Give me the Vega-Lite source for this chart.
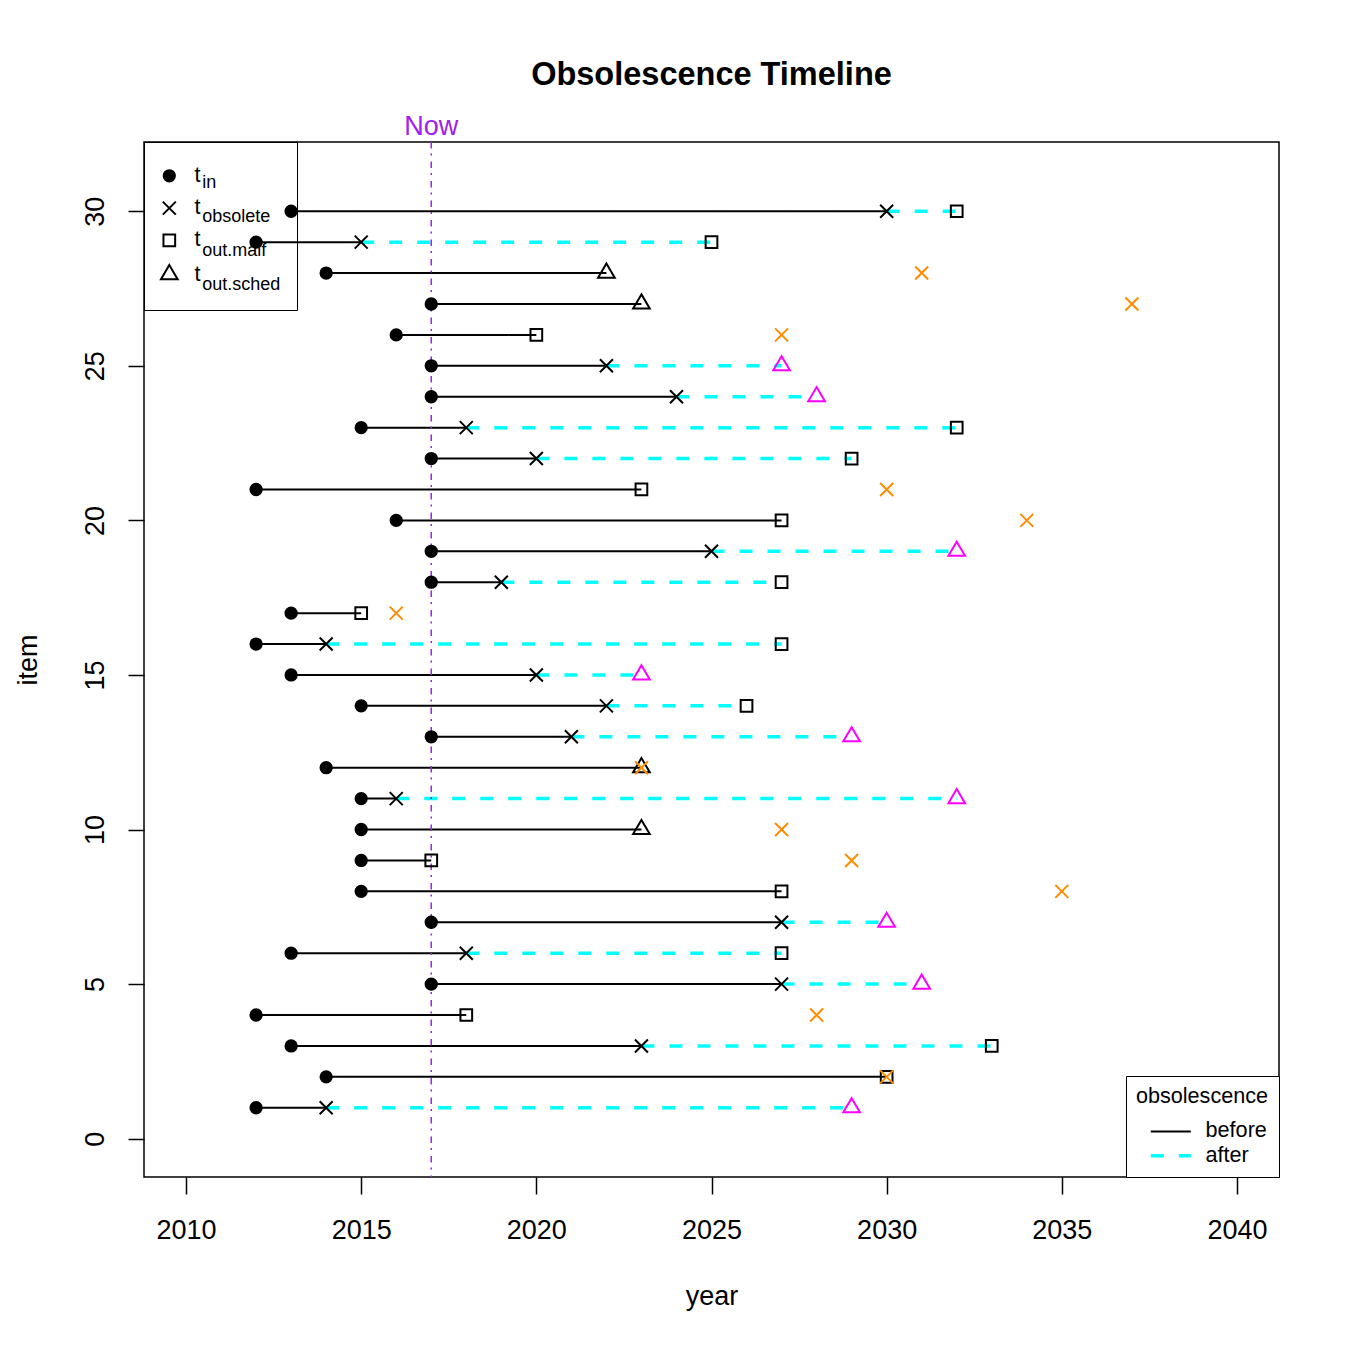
{
  "$schema": "https://vega.github.io/schema/vega-lite/v6.json",
  "width": 1135,
  "height": 1035,
  "autosize": {"type": "none"},
  "padding": {"left": 144, "top": 142, "right": 73, "bottom": 169},
  "background": "white",
  "title": {"text": "Obsolescence Timeline", "fontSize": 32.5, "fontWeight": "bold", "font": "Liberation Sans", "color": "black", "anchor": "middle", "baseline": "alphabetic", "offset": -5},
  "config": {
    "font": "Liberation Sans",
    "view": {"stroke": "black", "strokeWidth": 1.5},
    "axis": {"domain": false, "grid": false, "tickColor": "black", "tickWidth": 1.5, "labelColor": "black", "labelFontSize": 27, "labelFont": "Liberation Sans", "titleFont": "Liberation Sans", "titleFontSize": 27, "titleFontWeight": "normal", "titleColor": "black"},
    "legend": {"labelFont": "Liberation Sans", "titleFont": "Liberation Sans", "labelColor": "black", "titleColor": "black"}
  },
  "datasets": {
    "points": [
      {"item": 30, "year": 2013, "event": "t_in", "sub": "in", "status": "normal"},
      {"item": 30, "year": 2030, "event": "t_obsolete", "sub": "obsolete", "status": "normal"},
      {"item": 30, "year": 2032, "event": "t_out.malf", "sub": "out.malf", "status": "normal"},
      {"item": 29, "year": 2012, "event": "t_in", "sub": "in", "status": "normal"},
      {"item": 29, "year": 2015, "event": "t_obsolete", "sub": "obsolete", "status": "normal"},
      {"item": 29, "year": 2025, "event": "t_out.malf", "sub": "out.malf", "status": "normal"},
      {"item": 28, "year": 2014, "event": "t_in", "sub": "in", "status": "normal"},
      {"item": 28, "year": 2022, "event": "t_out.sched", "sub": "out.sched", "status": "normal"},
      {"item": 28, "year": 2031, "event": "t_obsolete", "sub": "obsolete", "status": "obsolete after out"},
      {"item": 27, "year": 2017, "event": "t_in", "sub": "in", "status": "normal"},
      {"item": 27, "year": 2023, "event": "t_out.sched", "sub": "out.sched", "status": "normal"},
      {"item": 27, "year": 2037, "event": "t_obsolete", "sub": "obsolete", "status": "obsolete after out"},
      {"item": 26, "year": 2016, "event": "t_in", "sub": "in", "status": "normal"},
      {"item": 26, "year": 2020, "event": "t_out.malf", "sub": "out.malf", "status": "normal"},
      {"item": 26, "year": 2027, "event": "t_obsolete", "sub": "obsolete", "status": "obsolete after out"},
      {"item": 25, "year": 2017, "event": "t_in", "sub": "in", "status": "normal"},
      {"item": 25, "year": 2022, "event": "t_obsolete", "sub": "obsolete", "status": "normal"},
      {"item": 25, "year": 2027, "event": "t_out.sched", "sub": "out.sched", "status": "scheduled after obsolete"},
      {"item": 24, "year": 2017, "event": "t_in", "sub": "in", "status": "normal"},
      {"item": 24, "year": 2024, "event": "t_obsolete", "sub": "obsolete", "status": "normal"},
      {"item": 24, "year": 2028, "event": "t_out.sched", "sub": "out.sched", "status": "scheduled after obsolete"},
      {"item": 23, "year": 2015, "event": "t_in", "sub": "in", "status": "normal"},
      {"item": 23, "year": 2018, "event": "t_obsolete", "sub": "obsolete", "status": "normal"},
      {"item": 23, "year": 2032, "event": "t_out.malf", "sub": "out.malf", "status": "normal"},
      {"item": 22, "year": 2017, "event": "t_in", "sub": "in", "status": "normal"},
      {"item": 22, "year": 2020, "event": "t_obsolete", "sub": "obsolete", "status": "normal"},
      {"item": 22, "year": 2029, "event": "t_out.malf", "sub": "out.malf", "status": "normal"},
      {"item": 21, "year": 2012, "event": "t_in", "sub": "in", "status": "normal"},
      {"item": 21, "year": 2023, "event": "t_out.malf", "sub": "out.malf", "status": "normal"},
      {"item": 21, "year": 2030, "event": "t_obsolete", "sub": "obsolete", "status": "obsolete after out"},
      {"item": 20, "year": 2016, "event": "t_in", "sub": "in", "status": "normal"},
      {"item": 20, "year": 2027, "event": "t_out.malf", "sub": "out.malf", "status": "normal"},
      {"item": 20, "year": 2034, "event": "t_obsolete", "sub": "obsolete", "status": "obsolete after out"},
      {"item": 19, "year": 2017, "event": "t_in", "sub": "in", "status": "normal"},
      {"item": 19, "year": 2025, "event": "t_obsolete", "sub": "obsolete", "status": "normal"},
      {"item": 19, "year": 2032, "event": "t_out.sched", "sub": "out.sched", "status": "scheduled after obsolete"},
      {"item": 18, "year": 2017, "event": "t_in", "sub": "in", "status": "normal"},
      {"item": 18, "year": 2019, "event": "t_obsolete", "sub": "obsolete", "status": "normal"},
      {"item": 18, "year": 2027, "event": "t_out.malf", "sub": "out.malf", "status": "normal"},
      {"item": 17, "year": 2013, "event": "t_in", "sub": "in", "status": "normal"},
      {"item": 17, "year": 2015, "event": "t_out.malf", "sub": "out.malf", "status": "normal"},
      {"item": 17, "year": 2016, "event": "t_obsolete", "sub": "obsolete", "status": "obsolete after out"},
      {"item": 16, "year": 2012, "event": "t_in", "sub": "in", "status": "normal"},
      {"item": 16, "year": 2014, "event": "t_obsolete", "sub": "obsolete", "status": "normal"},
      {"item": 16, "year": 2027, "event": "t_out.malf", "sub": "out.malf", "status": "normal"},
      {"item": 15, "year": 2013, "event": "t_in", "sub": "in", "status": "normal"},
      {"item": 15, "year": 2020, "event": "t_obsolete", "sub": "obsolete", "status": "normal"},
      {"item": 15, "year": 2023, "event": "t_out.sched", "sub": "out.sched", "status": "scheduled after obsolete"},
      {"item": 14, "year": 2015, "event": "t_in", "sub": "in", "status": "normal"},
      {"item": 14, "year": 2022, "event": "t_obsolete", "sub": "obsolete", "status": "normal"},
      {"item": 14, "year": 2026, "event": "t_out.malf", "sub": "out.malf", "status": "normal"},
      {"item": 13, "year": 2017, "event": "t_in", "sub": "in", "status": "normal"},
      {"item": 13, "year": 2021, "event": "t_obsolete", "sub": "obsolete", "status": "normal"},
      {"item": 13, "year": 2029, "event": "t_out.sched", "sub": "out.sched", "status": "scheduled after obsolete"},
      {"item": 12, "year": 2014, "event": "t_in", "sub": "in", "status": "normal"},
      {"item": 12, "year": 2023, "event": "t_out.sched", "sub": "out.sched", "status": "normal"},
      {"item": 12, "year": 2023, "event": "t_obsolete", "sub": "obsolete", "status": "obsolete after out"},
      {"item": 11, "year": 2015, "event": "t_in", "sub": "in", "status": "normal"},
      {"item": 11, "year": 2016, "event": "t_obsolete", "sub": "obsolete", "status": "normal"},
      {"item": 11, "year": 2032, "event": "t_out.sched", "sub": "out.sched", "status": "scheduled after obsolete"},
      {"item": 10, "year": 2015, "event": "t_in", "sub": "in", "status": "normal"},
      {"item": 10, "year": 2023, "event": "t_out.sched", "sub": "out.sched", "status": "normal"},
      {"item": 10, "year": 2027, "event": "t_obsolete", "sub": "obsolete", "status": "obsolete after out"},
      {"item": 9, "year": 2015, "event": "t_in", "sub": "in", "status": "normal"},
      {"item": 9, "year": 2017, "event": "t_out.malf", "sub": "out.malf", "status": "normal"},
      {"item": 9, "year": 2029, "event": "t_obsolete", "sub": "obsolete", "status": "obsolete after out"},
      {"item": 8, "year": 2015, "event": "t_in", "sub": "in", "status": "normal"},
      {"item": 8, "year": 2027, "event": "t_out.malf", "sub": "out.malf", "status": "normal"},
      {"item": 8, "year": 2035, "event": "t_obsolete", "sub": "obsolete", "status": "obsolete after out"},
      {"item": 7, "year": 2017, "event": "t_in", "sub": "in", "status": "normal"},
      {"item": 7, "year": 2027, "event": "t_obsolete", "sub": "obsolete", "status": "normal"},
      {"item": 7, "year": 2030, "event": "t_out.sched", "sub": "out.sched", "status": "scheduled after obsolete"},
      {"item": 6, "year": 2013, "event": "t_in", "sub": "in", "status": "normal"},
      {"item": 6, "year": 2018, "event": "t_obsolete", "sub": "obsolete", "status": "normal"},
      {"item": 6, "year": 2027, "event": "t_out.malf", "sub": "out.malf", "status": "normal"},
      {"item": 5, "year": 2017, "event": "t_in", "sub": "in", "status": "normal"},
      {"item": 5, "year": 2027, "event": "t_obsolete", "sub": "obsolete", "status": "normal"},
      {"item": 5, "year": 2031, "event": "t_out.sched", "sub": "out.sched", "status": "scheduled after obsolete"},
      {"item": 4, "year": 2012, "event": "t_in", "sub": "in", "status": "normal"},
      {"item": 4, "year": 2018, "event": "t_out.malf", "sub": "out.malf", "status": "normal"},
      {"item": 4, "year": 2028, "event": "t_obsolete", "sub": "obsolete", "status": "obsolete after out"},
      {"item": 3, "year": 2013, "event": "t_in", "sub": "in", "status": "normal"},
      {"item": 3, "year": 2023, "event": "t_obsolete", "sub": "obsolete", "status": "normal"},
      {"item": 3, "year": 2033, "event": "t_out.malf", "sub": "out.malf", "status": "normal"},
      {"item": 2, "year": 2014, "event": "t_in", "sub": "in", "status": "normal"},
      {"item": 2, "year": 2030, "event": "t_out.malf", "sub": "out.malf", "status": "normal"},
      {"item": 2, "year": 2030, "event": "t_obsolete", "sub": "obsolete", "status": "obsolete after out"},
      {"item": 1, "year": 2012, "event": "t_in", "sub": "in", "status": "normal"},
      {"item": 1, "year": 2014, "event": "t_obsolete", "sub": "obsolete", "status": "normal"},
      {"item": 1, "year": 2029, "event": "t_out.sched", "sub": "out.sched", "status": "scheduled after obsolete"}
    ],
    "segments": [
      {"item": 30, "start": 2013, "end": 2030, "phase": "before"},
      {"item": 30, "start": 2030, "end": 2032, "phase": "after"},
      {"item": 29, "start": 2012, "end": 2015, "phase": "before"},
      {"item": 29, "start": 2015, "end": 2025, "phase": "after"},
      {"item": 28, "start": 2014, "end": 2022, "phase": "before"},
      {"item": 27, "start": 2017, "end": 2023, "phase": "before"},
      {"item": 26, "start": 2016, "end": 2020, "phase": "before"},
      {"item": 25, "start": 2017, "end": 2022, "phase": "before"},
      {"item": 25, "start": 2022, "end": 2027, "phase": "after"},
      {"item": 24, "start": 2017, "end": 2024, "phase": "before"},
      {"item": 24, "start": 2024, "end": 2028, "phase": "after"},
      {"item": 23, "start": 2015, "end": 2018, "phase": "before"},
      {"item": 23, "start": 2018, "end": 2032, "phase": "after"},
      {"item": 22, "start": 2017, "end": 2020, "phase": "before"},
      {"item": 22, "start": 2020, "end": 2029, "phase": "after"},
      {"item": 21, "start": 2012, "end": 2023, "phase": "before"},
      {"item": 20, "start": 2016, "end": 2027, "phase": "before"},
      {"item": 19, "start": 2017, "end": 2025, "phase": "before"},
      {"item": 19, "start": 2025, "end": 2032, "phase": "after"},
      {"item": 18, "start": 2017, "end": 2019, "phase": "before"},
      {"item": 18, "start": 2019, "end": 2027, "phase": "after"},
      {"item": 17, "start": 2013, "end": 2015, "phase": "before"},
      {"item": 16, "start": 2012, "end": 2014, "phase": "before"},
      {"item": 16, "start": 2014, "end": 2027, "phase": "after"},
      {"item": 15, "start": 2013, "end": 2020, "phase": "before"},
      {"item": 15, "start": 2020, "end": 2023, "phase": "after"},
      {"item": 14, "start": 2015, "end": 2022, "phase": "before"},
      {"item": 14, "start": 2022, "end": 2026, "phase": "after"},
      {"item": 13, "start": 2017, "end": 2021, "phase": "before"},
      {"item": 13, "start": 2021, "end": 2029, "phase": "after"},
      {"item": 12, "start": 2014, "end": 2023, "phase": "before"},
      {"item": 11, "start": 2015, "end": 2016, "phase": "before"},
      {"item": 11, "start": 2016, "end": 2032, "phase": "after"},
      {"item": 10, "start": 2015, "end": 2023, "phase": "before"},
      {"item": 9, "start": 2015, "end": 2017, "phase": "before"},
      {"item": 8, "start": 2015, "end": 2027, "phase": "before"},
      {"item": 7, "start": 2017, "end": 2027, "phase": "before"},
      {"item": 7, "start": 2027, "end": 2030, "phase": "after"},
      {"item": 6, "start": 2013, "end": 2018, "phase": "before"},
      {"item": 6, "start": 2018, "end": 2027, "phase": "after"},
      {"item": 5, "start": 2017, "end": 2027, "phase": "before"},
      {"item": 5, "start": 2027, "end": 2031, "phase": "after"},
      {"item": 4, "start": 2012, "end": 2018, "phase": "before"},
      {"item": 3, "start": 2013, "end": 2023, "phase": "before"},
      {"item": 3, "start": 2023, "end": 2033, "phase": "after"},
      {"item": 2, "start": 2014, "end": 2030, "phase": "before"},
      {"item": 1, "start": 2012, "end": 2014, "phase": "before"},
      {"item": 1, "start": 2014, "end": 2029, "phase": "after"}
    ]
  },
  "layer": [
    {
      "data": {"name": "segments"},
      "mark": {"type": "rule", "strokeCap": "butt"},
      "encoding": {
        "x": {"field": "start", "type": "quantitative", "title": "year", "scale": {"domain": [2008.8, 2041.2], "nice": false, "zero": false},
          "axis": {"values": [2010, 2015, 2020, 2025, 2030, 2035, 2040], "format": "d", "tickSize": 17, "labelPadding": 23, "labelBaseline": "top", "labelFlush": false, "labelOverlap": false, "titlePadding": 40}},
        "x2": {"field": "end"},
        "y": {"field": "item", "type": "quantitative", "title": "item", "scale": {"domain": [-1.24, 32.24], "nice": false, "zero": false},
          "axis": {"values": [0, 5, 10, 15, 20, 25, 30], "tickSize": 16, "labelAngle": -90, "labelAlign": "center", "labelBaseline": "alphabetic", "labelPadding": 25, "labelFlush": false, "labelOverlap": false, "titlePadding": 39}},
        "color": {"field": "phase", "type": "ordinal", "sort": ["before", "after"], "scale": {"domain": ["before", "after"], "range": ["black", "#00FFFF"]},
          "legend": {"title": "obsolescence", "orient": "bottom-right", "offset": 0, "strokeColor": "black", "fillColor": "white", "padding": 10, "titleFontSize": 21.6, "titleFontWeight": "normal", "titleAnchor": "middle", "titlePadding": 13, "labelFontSize": 21.6, "labelOffset": 24, "symbolType": "M-5,0H5", "symbolSize": 64, "symbolOffset": 23, "rowPadding": 1.4}},
        "strokeDash": {"field": "phase", "type": "ordinal", "sort": ["before", "after"], "scale": {"domain": ["before", "after"], "range": [[1, 0], [13, 15]]},
          "legend": {"title": "obsolescence", "orient": "bottom-right", "offset": 0, "strokeColor": "black", "fillColor": "white", "padding": 10, "titleFontSize": 21.6, "titleFontWeight": "normal", "titleAnchor": "middle", "titlePadding": 13, "labelFontSize": 21.6, "labelOffset": 24, "symbolType": "M-5,0H5", "symbolSize": 64, "symbolOffset": 23, "rowPadding": 1.4}},
        "strokeWidth": {"field": "phase", "type": "ordinal", "sort": ["before", "after"], "scale": {"type": "ordinal", "domain": ["before", "after"], "range": [2, 3.5]},
          "legend": {"title": "obsolescence", "orient": "bottom-right", "offset": 0, "strokeColor": "black", "fillColor": "white", "padding": 10, "titleFontSize": 21.6, "titleFontWeight": "normal", "titleAnchor": "middle", "titlePadding": 13, "labelFontSize": 21.6, "labelOffset": 24, "symbolType": "M-5,0H5", "symbolSize": 64, "symbolOffset": 23, "rowPadding": 1.4}}
      }
    },
    {
      "data": {"values": [{"label": "Now"}]},
      "mark": {"type": "rule", "color": "#A020F0", "strokeWidth": 1.5, "strokeDash": [6.5, 5, 2, 6]},
      "encoding": {
        "x": {"datum": 2017, "type": "quantitative"}
      }
    },
    {
      "data": {"values": [{"label": "Now"}]},
      "mark": {"type": "text", "color": "#A020F0", "fontSize": 27, "font": "Liberation Sans", "align": "center", "baseline": "alphabetic"},
      "encoding": {
        "x": {"datum": 2017, "type": "quantitative"},
        "y": {"datum": 32.47, "type": "quantitative"},
        "text": {"field": "label"}
      }
    },
    {
      "data": {"name": "points"},
      "transform": [{"filter": "datum.status === 'normal'"}],
      "mark": {"type": "point", "filled": false, "strokeWidth": 2, "size": 169, "opacity": 1},
      "encoding": {
        "x": {"field": "year", "type": "quantitative", "title": "year"},
        "y": {"field": "item", "type": "quantitative", "title": "item"},
        "shape": {"field": "event", "type": "nominal",
          "scale": {"domain": ["t_in", "t_obsolete", "t_out.malf", "t_out.sched"], "range": ["M-0.87,0A0.87,0.87 0 1,1 0.87,0A0.87,0.87 0 1,1 -0.87,0Z", "M-1,-1L1,1M1,-1L-1,1", "M-0.9,-0.9L0.9,-0.9L0.9,0.9L-0.9,0.9Z", "M0,-1.48L1.28,0.7L-1.28,0.7Z"]},
          "legend": {"title": null, "orient": "none", "legendX": 14.5, "legendY": 23, "padding": 0, "rowPadding": 9.3, "labelExpr": "'t'", "labelFontSize": 21.6, "labelBaseline": "middle", "labelOffset": 14.5, "symbolSize": 169, "symbolStrokeWidth": 2}},
        "fill": {"field": "event", "type": "nominal",
          "scale": {"domain": ["t_in", "t_obsolete", "t_out.malf", "t_out.sched"], "range": ["black", "transparent", "transparent", "transparent"]},
          "legend": {"title": null, "orient": "none", "legendX": 14.5, "legendY": 23, "padding": 0, "rowPadding": 9.3, "labelExpr": "'t'", "labelFontSize": 21.6, "labelBaseline": "middle", "labelOffset": 14.5, "symbolSize": 169, "symbolStrokeWidth": 2}},
        "stroke": {"field": "event", "type": "nominal",
          "scale": {"domain": ["t_in", "t_obsolete", "t_out.malf", "t_out.sched"], "range": ["black", "black", "black", "black"]},
          "legend": {"title": null, "orient": "none", "legendX": 14.5, "legendY": 23, "padding": 0, "rowPadding": 9.3, "labelExpr": "'t'", "labelFontSize": 21.6, "labelBaseline": "middle", "labelOffset": 14.5, "symbolSize": 169, "symbolStrokeWidth": 2}},
        "opacity": {"field": "sub", "type": "ordinal", "sort": ["in", "obsolete", "out.malf", "out.sched"],
          "scale": {"domain": ["in", "obsolete", "out.malf", "out.sched"], "range": [1, 1]},
          "legend": {"title": null, "orient": "none", "legendX": 0, "legendY": 0, "padding": 16, "rowPadding": -1, "strokeColor": "black", "labelFontSize": 18, "labelBaseline": "top", "labelOffset": 10.3, "symbolType": "M0,0", "symbolSize": 900}}
      }
    },
    {
      "data": {"name": "points"},
      "transform": [{"filter": "datum.status === 'obsolete after out'"}],
      "mark": {"type": "point", "filled": false, "shape": "M-1,-1L1,1M1,-1L-1,1", "stroke": "#FF8C00", "strokeWidth": 2, "size": 169, "opacity": 1},
      "encoding": {
        "x": {"field": "year", "type": "quantitative", "title": "year"},
        "y": {"field": "item", "type": "quantitative", "title": "item"}
      }
    },
    {
      "data": {"name": "points"},
      "transform": [{"filter": "datum.status === 'scheduled after obsolete'"}],
      "mark": {"type": "point", "filled": false, "shape": "M0,-1.48L1.28,0.7L-1.28,0.7Z", "stroke": "#FF00FF", "strokeWidth": 2, "size": 169, "opacity": 1},
      "encoding": {
        "x": {"field": "year", "type": "quantitative", "title": "year"},
        "y": {"field": "item", "type": "quantitative", "title": "item"}
      }
    }
  ]
}
